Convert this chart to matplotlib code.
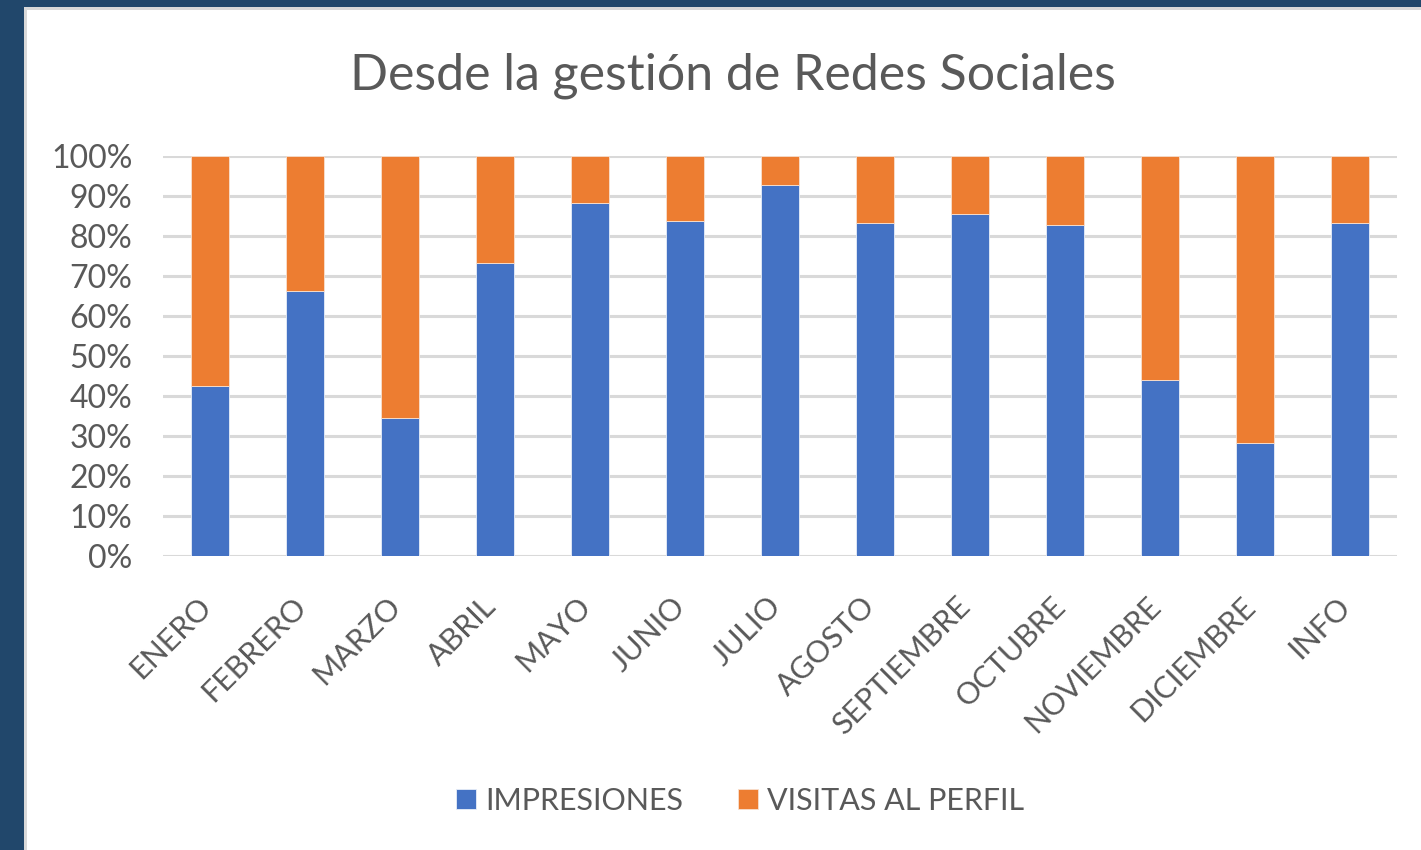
import matplotlib
matplotlib.use("Agg")
import matplotlib.pyplot as plt
from matplotlib.patches import Rectangle
from matplotlib.ticker import PercentFormatter
from matplotlib.transforms import ScaledTranslation

categories = ["ENERO", "FEBRERO", "MARZO", "ABRIL", "MAYO", "JUNIO", "JULIO",
              "AGOSTO", "SEPTIEMBRE", "OCTUBRE", "NOVIEMBRE", "DICIEMBRE", "INFO"]
impresiones = [42.5, 66.1, 34.5, 73.2, 88.3, 83.7, 92.6, 83.2, 85.5, 82.7, 44.0, 28.3, 83.2]
visitas = [100 - v for v in impresiones]
series_names = ["IMPRESIONES", "VISITAS AL PERFIL"]
title = "Desde la gestión de Redes Sociales"
yticks = list(range(0, 101, 10))

BLUE = "#4472C4"
ORANGE = "#ED7D31"
GRID = "#D9D9D9"
TEXT = "#595959"
FONT = ["Lato", "DejaVu Sans"]

plt.rcParams["font.family"] = FONT

W, H = 1421, 850
fig = plt.figure(figsize=(W / 100, H / 100), dpi=100)
fig.patch.set_facecolor("#21476B")

# white chart area with light gray edge
fig.add_artist(Rectangle((24 / W, 0), 1, 1 - 7 / H, transform=fig.transFigure,
                         facecolor="#D9D9D9", edgecolor="none", zorder=0))
fig.add_artist(Rectangle((27 / W, 0), 1, 1 - 10 / H, transform=fig.transFigure,
                         facecolor="white", edgecolor="none", zorder=0))

left, right = 163 / W, 1397 / W
bottom, top = 1 - 555.7 / H, 1 - 155.7 / H
ax = fig.add_axes([left, bottom, right - left, top - bottom])
ax.set_facecolor("none")

x = list(range(len(categories)))
b1 = ax.bar(x, impresiones, width=0.4, color=BLUE, edgecolor="#E8EEF8",
            linewidth=0.6, label=series_names[0], zorder=3)
b2 = ax.bar(x, visitas, bottom=impresiones, width=0.4, color=ORANGE,
            edgecolor="#F8E0D0", linewidth=0.6, label=series_names[1], zorder=3)

ax.set_xlim(-0.5, len(categories) - 0.5)
ax.set_ylim(0, 100)
ax.set_yticks(yticks)
ax.yaxis.set_major_formatter(PercentFormatter(decimals=0))
ax.grid(axis="y", color=GRID, linewidth=2.2, zorder=0)
ax.set_axisbelow(True)
for s in ax.spines.values():
    s.set_visible(False)

ax.tick_params(axis="y", length=0, pad=22, labelsize=23, labelcolor=TEXT)
ax.tick_params(axis="x", length=0, pad=26, labelsize=22, labelcolor=TEXT)
ax.set_xticks(x)
ax.set_xticklabels(categories, rotation=45, ha="right", rotation_mode="default")
shift = ScaledTranslation(6 / 100, 0, fig.dpi_scale_trans)
for lab in ax.get_xticklabels():
    lab.set_transform(lab.get_transform() + shift)

fig.text(733 / W, 1 - 76 / H, title, ha="center", va="center",
         fontsize=36, color=TEXT)

leg = fig.legend(handles=[b1, b2], labels=series_names, loc="center",
                 bbox_to_anchor=(740 / W, 1 - 801 / H), ncol=2, frameon=False,
                 fontsize=22, labelcolor=TEXT, handlelength=0.65, handleheight=0.65,
                 handletextpad=0.3, columnspacing=1.8)

fig.savefig("out.png", dpi=100)
